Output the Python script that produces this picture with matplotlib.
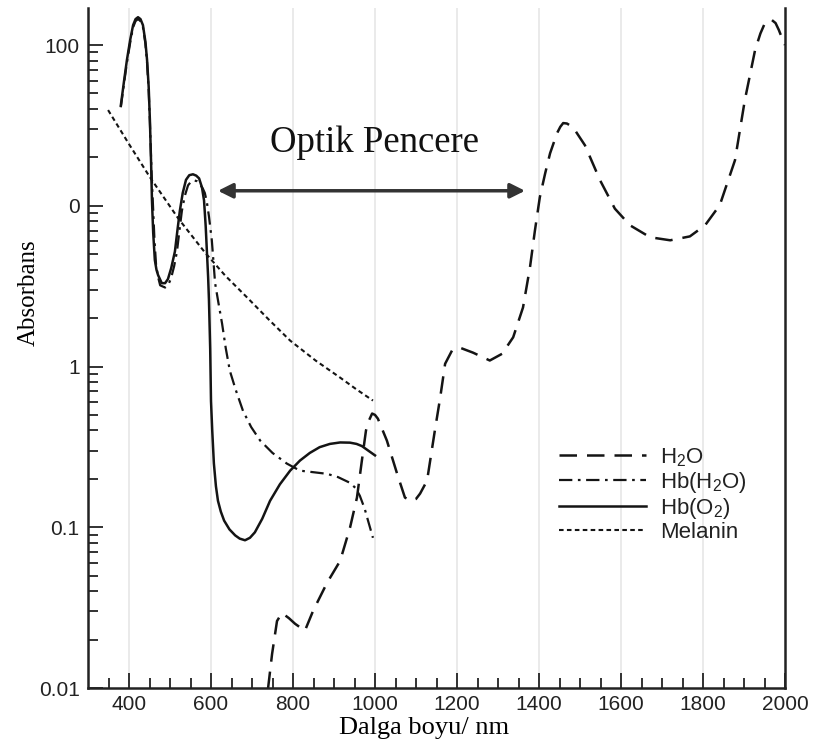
import numpy as np
import matplotlib
matplotlib.use("Agg")
import matplotlib.pyplot as plt
from matplotlib.ticker import FixedLocator, LogLocator, NullFormatter, FixedFormatter

plt.rcParams['font.family'] = ['Liberation Sans', 'DejaVu Sans']
plt.rcParams['mathtext.default'] = 'regular'

# ---- data ----
h2o_x = [739, 749, 761, 773, 790, 805, 829, 849, 883, 915, 939, 956, 968, 978, 985, 993, 1000,
         1007, 1029, 1054, 1073, 1088, 1100, 1110, 1127, 1146, 1159, 1171, 1188, 1207, 1239,
         1280, 1310, 1337, 1361, 1378, 1390, 1402, 1415, 1427, 1444, 1452, 1459, 1468, 1483,
         1512, 1549, 1585, 1622, 1671, 1720, 1768, 1805, 1841, 1878, 1902, 1927, 1940, 1951,
         1960, 1968, 1977, 1985, 1993, 2000]
h2o_y = [0.00986, 0.0163, 0.0261, 0.0293, 0.0272, 0.0251, 0.0227, 0.0302, 0.0451, 0.0618,
         0.0993, 0.153, 0.26, 0.40, 0.46, 0.51, 0.50, 0.474, 0.346, 0.215, 0.153, 0.146, 0.150,
         0.162, 0.195, 0.40, 0.64, 1.04, 1.26, 1.31, 1.22, 1.09, 1.2, 1.52, 2.33, 4.14, 7.0,
         11.3, 15.9, 21.2, 28.3, 31.0, 32.7, 32.5, 30.8, 23.8, 14.4, 9.6, 7.56, 6.37, 6.1,
         6.45, 7.56, 10.1, 19.2, 45.4, 93, 118, 137, 142, 143, 137, 124, 110, 100]

hbh2o_x = [380, 388, 395, 403, 410, 416, 422, 428, 434, 440, 444, 448, 451, 455, 459, 462,
           466, 471, 476, 488, 495, 502, 510, 517, 523, 529, 536, 544, 552, 559, 566, 573,
           580, 585, 590, 595, 602, 610, 618, 627, 636, 646, 660, 678, 698, 720, 750, 785,
           817, 850, 883, 910, 939, 953, 963, 975, 983, 995]
hbh2o_y = [41, 58, 78, 104, 129, 141, 145, 141, 129, 102, 78, 52, 33, 16, 9.4, 6.2, 4.3, 3.6,
           3.2, 3.1, 3.2, 3.5, 4.2, 5.2, 7.0, 9.3, 11.5, 13.4, 14.2, 14.4, 14.2, 13.6, 12.8,
           12.0, 10.5, 8.6, 6.1, 3.3, 2.5, 1.85, 1.3, 0.94, 0.72, 0.53, 0.42, 0.346, 0.29,
           0.249, 0.225, 0.22, 0.215, 0.205, 0.189, 0.175, 0.157, 0.13, 0.11, 0.086]

hbo2_x = [380, 388, 395, 403, 410, 416, 422, 428, 434, 440, 444, 448, 451, 454, 456, 459,
          463, 467, 471, 480, 488, 495, 503, 512, 518, 524, 531, 539, 547, 556, 564, 571,
          578, 583, 587, 590, 593, 595, 598, 600, 603, 607, 612, 617, 624, 632, 645, 659,
          670, 683, 695, 707, 725, 744, 768, 793, 817, 841, 865, 890, 915, 939, 955, 968,
          985, 1000]
hbo2_y = [42, 60, 81, 108, 133, 145, 149, 145, 133, 105, 81, 55, 34, 18, 10.8, 6.8, 4.6, 4.0,
          3.7, 3.3, 3.3, 3.5, 4.1, 5.2, 7.0, 9.3, 12.0, 14.5, 15.5, 15.7, 15.4, 14.8, 13.0,
          10.8, 7.5, 5.2, 3.6, 2.6, 1.3, 0.61, 0.40, 0.25, 0.18, 0.146, 0.125, 0.11, 0.097,
          0.089, 0.085, 0.083, 0.086, 0.093, 0.113, 0.146, 0.185, 0.225, 0.26, 0.29, 0.315,
          0.33, 0.337, 0.336, 0.33, 0.32, 0.298, 0.28]

mel_x = [349, 400, 450, 520, 585, 635, 688, 740, 793, 855, 915, 955, 995]
mel_y = [39.4, 24.2, 15.2, 8.35, 5.13, 3.67, 2.69, 1.97, 1.45, 1.09, 0.853, 0.72, 0.614]

labels = ['H$_2$O', 'Hb(H$_2$O)', 'Hb(O$_2$)', 'Melanin']
x_ticks = [400, 600, 800, 1000, 1200, 1400, 1600, 1800, 2000]
y_ticks = [0.01, 0.1, 1, 10, 100]
y_ticklabels = ['0.01', '0.1', '1', '0', '100']

# ---- figure ----
fig = plt.figure(figsize=(8.15, 7.42), dpi=100)
ax = fig.add_axes([88/815, 54/742, 697/815, 680/742])

col = '#141414'
ax.plot(h2o_x, h2o_y, color=col, lw=1.8, dashes=(7, 4), label=labels[0])
ax.plot(hbh2o_x, hbh2o_y, color=col, lw=1.6, dashes=(6, 2.5, 1.2, 2.5), label=labels[1])
ax.plot(hbo2_x, hbo2_y, color=col, lw=1.8, label=labels[2])
ax.plot(mel_x, mel_y, color=col, lw=1.5, dashes=(2.2, 1.6), label=labels[3])

ax.set_yscale('log')
ax.set_xlim(300, 2000)
ax.set_ylim(0.01, 170)

for xv in x_ticks[:-1]:
    ax.axvline(xv, color='#e8e8e8', lw=1.3, zorder=0)

ax.xaxis.set_major_locator(FixedLocator(x_ticks))
ax.xaxis.set_minor_locator(FixedLocator([v for v in range(350, 2000, 50) if v % 200 != 0]))
ax.yaxis.set_major_locator(FixedLocator(y_ticks))
ax.yaxis.set_major_formatter(FixedFormatter(y_ticklabels))
ax.yaxis.set_minor_locator(LogLocator(base=10, subs=np.arange(2, 10)))
ax.yaxis.set_minor_formatter(NullFormatter())

ax.tick_params(axis='both', which='major', direction='in', length=11, width=1.3,
               labelsize=15, color='#222222', labelcolor='#222222')
ax.tick_params(axis='both', which='minor', direction='in', length=7, width=1.3, color='#222222')
ax.tick_params(axis='x', which='major', pad=5)
ax.tick_params(axis='y', which='major', pad=6)
ax.tick_params(axis='both', which='both', top=False, right=False)

ax.spines['top'].set_visible(False)
for s in ['left', 'bottom', 'right']:
    ax.spines[s].set_linewidth(1.8)
    ax.spines[s].set_color('#222222')

ax.set_xlabel('Dalga boyu/ nm', family=['Liberation Serif', 'DejaVu Serif'], fontsize=19)
ax.xaxis.set_label_coords(0.482, -0.043)
ax.set_ylabel('Absorbans', family=['Liberation Serif', 'DejaVu Serif'], fontsize=18)
ax.yaxis.set_label_coords(-0.069, 0.582)

ax.annotate('', xy=(617, 12.4), xytext=(1366, 12.4),
            arrowprops=dict(arrowstyle='<|-|>', color='#333333', lw=2.5, mutation_scale=22,
                            shrinkA=0, shrinkB=0))
ax.text(1000, 24.5, 'Optik Pencere', family=['Liberation Serif', 'DejaVu Serif'],
        fontsize=26.5, ha='center', va='center', color='#111111')

leg = ax.legend(loc='upper left', bbox_to_anchor=(0.66, 0.372), frameon=False,
                fontsize=16, handlelength=3.9, handletextpad=0.65, labelspacing=0.05,
                borderpad=0)
for t in leg.get_texts():
    t.set_color('#222222')

fig.savefig('out.png', dpi=100)
